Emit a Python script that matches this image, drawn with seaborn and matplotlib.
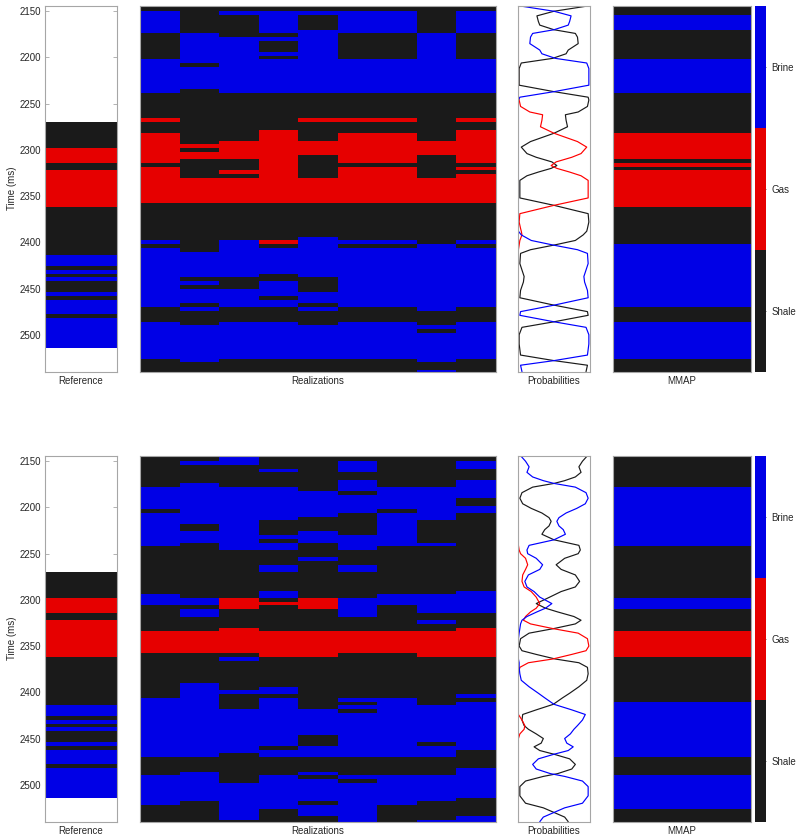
import numpy as np
import pandas as pd
import matplotlib
matplotlib.use("Agg")
import matplotlib.pyplot as plt
from matplotlib.colors import ListedColormap, BoundaryNorm
import seaborn as sns

sns.set_style("white")
plt.rcParams["font.family"] = ["Liberation Sans", "DejaVu Sans"]
plt.rcParams["font.size"] = 7

# ---------------- data ----------------
facies_names = ["Shale", "Gas", "Brine"]
facies_colors = ["#1a1a1a", "#e60000", "#0000e6"]
line_colors = ["#1a1a1a", "#ff0000", "#0000ff"]
time_limits = (2144, 2540)
sample_step = 4
yticks = [2150, 2200, 2250, 2300, 2350, 2400, 2450, 2500]
panel_labels = ["Reference", "Realizations", "Probabilities", "MMAP"]

# layers: (top time in ms, facies code)  S=shale, G=gas, B=brine, None=no data
reference_layers = [(2142, None), (2270, 'S'), (2298, 'G'), (2314, 'S'), (2322, 'G'),
                    (2362, 'S'), (2414, 'B'), (2426, 'S'), (2430, 'B'), (2434, 'S'),
                    (2438, 'B'), (2442, 'S'), (2454, 'B'), (2458, 'S'), (2462, 'B'),
                    (2478, 'S'), (2482, 'B'), (2514, None)]

realizations_top = [
    [(2142,'S'),(2150,'B'),(2174,'S'),(2202,'B'),(2238,'S'),(2266,'G'),(2270,'S'),(2282,'G'),(2314,'S'),(2318,'G'),(2358,'S'),(2398,'B'),(2402,'S'),(2406,'B'),(2470,'S'),(2486,'B'),(2526,'S')],
    [(2142,'S'),(2174,'B'),(2206,'S'),(2210,'B'),(2234,'S'),(2294,'G'),(2298,'S'),(2302,'G'),(2310,'S'),(2330,'G'),(2358,'S'),(2410,'B'),(2438,'S'),(2442,'B'),(2446,'S'),(2450,'B'),(2466,'S'),(2470,'B'),(2474,'S'),(2490,'B'),(2530,'S')],
    [(2142,'S'),(2150,'B'),(2154,'S'),(2178,'B'),(2238,'S'),(2290,'G'),(2310,'S'),(2322,'G'),(2326,'S'),(2330,'G'),(2358,'S'),(2398,'B'),(2438,'S'),(2450,'B'),(2470,'S'),(2486,'B'),(2526,'S')],
    [(2142,'S'),(2150,'B'),(2174,'S'),(2178,'B'),(2182,'S'),(2194,'B'),(2198,'S'),(2202,'B'),(2238,'S'),(2278,'G'),(2358,'S'),(2398,'G'),(2402,'S'),(2406,'B'),(2434,'S'),(2442,'B'),(2458,'S'),(2462,'B'),(2470,'S'),(2486,'B'),(2526,'S')],
    [(2142,'S'),(2150,'B'),(2154,'S'),(2170,'B'),(2238,'S'),(2266,'G'),(2270,'S'),(2290,'G'),(2306,'S'),(2330,'G'),(2358,'S'),(2394,'B'),(2438,'S'),(2454,'B'),(2466,'S'),(2470,'B'),(2474,'S'),(2490,'B'),(2526,'S')],
    [(2142,'S'),(2150,'B'),(2174,'S'),(2202,'B'),(2238,'S'),(2266,'G'),(2270,'S'),(2282,'G'),(2314,'S'),(2318,'G'),(2358,'S'),(2398,'B'),(2402,'S'),(2406,'B'),(2470,'S'),(2486,'B'),(2526,'S')],
    [(2142,'S'),(2150,'B'),(2174,'S'),(2202,'B'),(2238,'S'),(2266,'G'),(2270,'S'),(2282,'G'),(2314,'S'),(2318,'G'),(2358,'S'),(2398,'B'),(2402,'S'),(2406,'B'),(2470,'S'),(2486,'B'),(2526,'S')],
    [(2142,'S'),(2174,'B'),(2238,'S'),(2290,'G'),(2306,'S'),(2330,'G'),(2358,'S'),(2402,'B'),(2474,'S'),(2490,'B'),(2494,'S'),(2498,'B'),(2530,'S'),(2538,'B')],
    [(2142,'S'),(2150,'B'),(2174,'S'),(2202,'B'),(2238,'S'),(2266,'G'),(2270,'S'),(2278,'G'),(2314,'S'),(2318,'G'),(2322,'S'),(2326,'G'),(2358,'S'),(2398,'B'),(2402,'S'),(2406,'B'),(2470,'S'),(2486,'B'),(2526,'S')],
]

realizations_bottom = [
    [(2142,'S'),(2178,'B'),(2202,'S'),(2206,'B'),(2242,'S'),(2294,'B'),(2306,'S'),(2334,'G'),(2358,'S'),(2406,'B'),(2470,'S'),(2490,'B'),(2522,'S')],
    [(2142,'S'),(2150,'B'),(2154,'S'),(2174,'B'),(2218,'S'),(2226,'B'),(2238,'S'),(2298,'B'),(2306,'S'),(2310,'B'),(2318,'S'),(2334,'G'),(2358,'S'),(2390,'B'),(2470,'S'),(2486,'B'),(2518,'S')],
    [(2142,'B'),(2154,'S'),(2178,'B'),(2246,'S'),(2298,'G'),(2310,'S'),(2330,'G'),(2358,'S'),(2362,'B'),(2366,'S'),(2398,'B'),(2402,'S'),(2418,'B'),(2466,'S'),(2498,'B'),(2538,'S')],
    [(2142,'S'),(2158,'B'),(2162,'S'),(2178,'B'),(2214,'S'),(2230,'B'),(2234,'S'),(2238,'B'),(2246,'S'),(2262,'B'),(2270,'S'),(2290,'B'),(2298,'S'),(2302,'G'),(2306,'S'),(2334,'G'),(2362,'S'),(2394,'B'),(2402,'S'),(2406,'B'),(2458,'S'),(2462,'B'),(2470,'S'),(2490,'B'),(2526,'S')],
    [(2142,'S'),(2182,'B'),(2210,'S'),(2226,'B'),(2238,'S'),(2254,'B'),(2258,'S'),(2298,'G'),(2310,'S'),(2334,'G'),(2362,'S'),(2418,'B'),(2446,'S'),(2458,'B'),(2470,'S'),(2486,'B'),(2490,'S'),(2494,'B'),(2518,'S'),(2522,'B'),(2534,'S')],
    [(2142,'S'),(2150,'B'),(2162,'S'),(2170,'B'),(2182,'S'),(2186,'B'),(2206,'S'),(2230,'B'),(2246,'S'),(2262,'B'),(2270,'S'),(2298,'B'),(2318,'S'),(2334,'G'),(2358,'S'),(2406,'B'),(2410,'S'),(2414,'B'),(2418,'S'),(2422,'B'),(2470,'S'),(2490,'B'),(2494,'S'),(2498,'B')],
    [(2142,'S'),(2178,'B'),(2202,'S'),(2206,'B'),(2242,'S'),(2294,'B'),(2306,'S'),(2334,'G'),(2358,'S'),(2406,'B'),(2470,'S'),(2490,'B'),(2522,'S')],
    [(2142,'S'),(2178,'B'),(2214,'S'),(2238,'B'),(2242,'S'),(2294,'B'),(2314,'S'),(2322,'B'),(2326,'S'),(2334,'G'),(2362,'S'),(2414,'B'),(2454,'S'),(2458,'B'),(2470,'S'),(2490,'B'),(2518,'S'),(2538,'B')],
    [(2142,'S'),(2150,'B'),(2158,'S'),(2170,'B'),(2190,'S'),(2198,'B'),(2206,'S'),(2290,'B'),(2314,'S'),(2330,'G'),(2362,'S'),(2402,'B'),(2406,'S'),(2410,'B'),(2462,'S'),(2482,'B'),(2514,'S'),(2534,'B')],
]

mmap_top = [(2142,'S'),(2154,'B'),(2170,'S'),(2202,'B'),(2238,'S'),(2282,'G'),(2310,'S'),(2314,'G'),(2318,'S'),(2322,'G'),(2362,'S'),(2402,'B'),(2470,'S'),(2486,'B'),(2526,'S')]
mmap_bottom = [(2142,'S'),(2178,'B'),(2242,'S'),(2298,'B'),(2310,'S'),(2334,'G'),(2362,'S'),(2410,'B'),(2470,'S'),(2490,'B'),(2526,'S')]

# probabilities (top row)
prob_time_top = [2144, 2150, 2155, 2161, 2165, 2170, 2174, 2178, 2185, 2192,
                 2196, 2201, 2206, 2212, 2230, 2237, 2243, 2246, 2253, 2259,
                 2262, 2268, 2275, 2282, 2291, 2297, 2304, 2308, 2313, 2317,
                 2320, 2324, 2328, 2333, 2352, 2360, 2369, 2378, 2385, 2388,
                 2392, 2398, 2403, 2408, 2412, 2423, 2430, 2437, 2443, 2452,
                 2460, 2468, 2475, 2479, 2486, 2492, 2500, 2510, 2522, 2528,
                 2533, 2540]
shale_top = [1.00, 0.50, 0.26, 0.28, 0.30, 0.50, 0.80, 0.83, 0.84, 0.70,
             0.67, 0.48, 0.04, 0.01, 0.01, 0.50, 0.98, 0.99, 0.97, 0.84,
             0.66, 0.67, 0.69, 0.50, 0.17, 0.04, 0.12, 0.25, 0.47, 0.54,
             0.46, 0.28, 0.12, 0.02, 0.02, 0.50, 0.98, 0.99, 0.97, 0.96,
             0.91, 0.80, 0.50, 0.17, 0.03, 0.02, 0.05, 0.08, 0.07, 0.03,
             0.02, 0.50, 0.97, 0.98, 0.50, 0.05, 0.01, 0.01, 0.03, 0.50,
             0.97, 0.95]
gas_top = [0.00, 0.00, 0.00, 0.00, 0.00, 0.00, 0.00, 0.00, 0.00, 0.00,
           0.00, 0.00, 0.00, 0.00, 0.00, 0.00, 0.00, 0.01, 0.03, 0.16,
           0.34, 0.33, 0.31, 0.50, 0.83, 0.96, 0.88, 0.75, 0.53, 0.46,
           0.54, 0.72, 0.88, 0.98, 0.98, 0.50, 0.02, 0.01, 0.03, 0.04,
           0.05, 0.02, 0.01, 0.00, 0.00, 0.00, 0.00, 0.00, 0.00, 0.00,
           0.00, 0.00, 0.00, 0.00, 0.00, 0.00, 0.00, 0.00, 0.00, 0.00,
           0.00, 0.00]
brine_top = [0.00, 0.50, 0.74, 0.72, 0.70, 0.50, 0.20, 0.17, 0.16, 0.30,
             0.33, 0.52, 0.96, 0.99, 0.99, 0.50, 0.02, 0.00, 0.00, 0.00,
             0.00, 0.00, 0.00, 0.00, 0.00, 0.00, 0.00, 0.00, 0.00, 0.00,
             0.00, 0.00, 0.00, 0.00, 0.00, 0.00, 0.00, 0.00, 0.00, 0.00,
             0.04, 0.18, 0.49, 0.83, 0.97, 0.98, 0.95, 0.92, 0.93, 0.97,
             0.98, 0.50, 0.03, 0.02, 0.50, 0.95, 0.99, 0.99, 0.97, 0.50,
             0.03, 0.05]

# probabilities (bottom row)
prob_time_bottom = [2144, 2150, 2156, 2162, 2167, 2171, 2174, 2178, 2184, 2190,
                    2196, 2201, 2206, 2211, 2215, 2220, 2224, 2229, 2235, 2241,
                    2246, 2250, 2255, 2262, 2267, 2273, 2280, 2286, 2291, 2297,
                    2304, 2309, 2313, 2318, 2322, 2326, 2331, 2336, 2342, 2350,
                    2355, 2359, 2364, 2368, 2373, 2380, 2387, 2394, 2401, 2406,
                    2413, 2419, 2424, 2430, 2436, 2440, 2445, 2450, 2455, 2459,
                    2463, 2467, 2472, 2478, 2483, 2488, 2491, 2496, 2502, 2512,
                    2520, 2525, 2530, 2535, 2540]
shale_bottom = [0.97, 0.90, 0.85, 0.88, 0.80, 0.65, 0.50, 0.20, 0.05, 0.02,
                0.06, 0.18, 0.33, 0.43, 0.46, 0.43, 0.37, 0.33, 0.50, 0.85,
                0.87, 0.84, 0.65, 0.53, 0.60, 0.80, 0.86, 0.80, 0.60, 0.44,
                0.25, 0.38, 0.55, 0.78, 0.88, 0.80, 0.50, 0.15, 0.03, 0.01,
                0.05, 0.25, 0.52, 0.85, 0.97, 0.98, 0.96, 0.85, 0.72, 0.62,
                0.49, 0.25, 0.06, 0.05, 0.08, 0.14, 0.25, 0.35, 0.32, 0.22,
                0.30, 0.50, 0.72, 0.80, 0.75, 0.55, 0.35, 0.10, 0.02, 0.02,
                0.10, 0.35, 0.50, 0.65, 0.70]
gas_bottom = [0.00, 0.00, 0.00, 0.00, 0.00, 0.00, 0.00, 0.00, 0.00, 0.00,
              0.00, 0.00, 0.00, 0.00, 0.00, 0.00, 0.00, 0.00, 0.00, 0.00,
              0.01, 0.03, 0.10, 0.13, 0.10, 0.06, 0.05, 0.08, 0.18, 0.25,
              0.30, 0.25, 0.17, 0.10, 0.07, 0.17, 0.48, 0.84, 0.97, 0.99,
              0.95, 0.75, 0.48, 0.14, 0.02, 0.00, 0.00, 0.00, 0.00, 0.00,
              0.00, 0.00, 0.00, 0.05, 0.09, 0.08, 0.02, 0.00, 0.00, 0.00,
              0.00, 0.00, 0.00, 0.00, 0.00, 0.00, 0.00, 0.00, 0.00, 0.00,
              0.00, 0.00, 0.00, 0.00, 0.00]
brine_bottom = [0.03, 0.10, 0.15, 0.12, 0.20, 0.35, 0.50, 0.80, 0.95, 0.98,
                0.94, 0.82, 0.67, 0.57, 0.54, 0.57, 0.63, 0.66, 0.50, 0.15,
                0.12, 0.13, 0.25, 0.34, 0.30, 0.14, 0.09, 0.12, 0.22, 0.30,
                0.47, 0.38, 0.26, 0.12, 0.05, 0.03, 0.02, 0.01, 0.00, 0.00,
                0.00, 0.00, 0.00, 0.01, 0.01, 0.02, 0.04, 0.15, 0.28, 0.37,
                0.50, 0.75, 0.94, 0.90, 0.83, 0.78, 0.73, 0.65, 0.68, 0.77,
                0.70, 0.50, 0.28, 0.20, 0.25, 0.45, 0.65, 0.90, 0.98, 0.98,
                0.90, 0.65, 0.50, 0.35, 0.30]

# ---------------- helpers ----------------
code_index = {"S": 0, "G": 1, "B": 2}
cmap = ListedColormap(facies_colors)
norm = BoundaryNorm([-0.5, 0.5, 1.5, 2.5], cmap.N)
sample_times = np.arange(time_limits[0], time_limits[1] + 1, sample_step)
time_edges = np.append(sample_times - sample_step / 2, sample_times[-1] + sample_step / 2)

spine_color = "#a6a6a6"
text_color = "#262626"

W, H = 796, 840
fig = plt.figure(figsize=(W / 100, H / 100), dpi=100)


def add_ax(x0, x1, y0, y1):
    return fig.add_axes([x0 / W, 1 - y1 / H, (x1 - x0) / W, (y1 - y0) / H])


def column_values(layers):
    tops = np.array([t for t, _ in layers])
    idx = np.searchsorted(tops, sample_times, side="right") - 1
    out = []
    for i in idx:
        code = layers[i][1] if i >= 0 else None
        out.append(np.nan if code is None else code_index[code])
    return np.array(out, dtype=float)


def style(ax, label):
    for s in ax.spines.values():
        s.set_color(spine_color)
        s.set_linewidth(0.8)
    ax.set_xticks([])
    ax.set_yticks([])
    ax.set_xlabel(label, labelpad=3, color=text_color, fontsize=7)
    ax.set_ylabel("")
    ax.set_ylim(time_limits[1], time_limits[0])


def facies_panel(ax, columns, label):
    grid = np.column_stack([column_values(c) for c in columns])
    x_edges = np.arange(grid.shape[1] + 1)
    ax.pcolormesh(x_edges, time_edges, np.ma.masked_invalid(grid), cmap=cmap,
                  norm=norm, shading="flat")
    ax.set_xlim(0, grid.shape[1])
    style(ax, label)


def prob_panel(ax, times, shale, gas, brine, label):
    df = pd.DataFrame({
        "time": np.concatenate([times, times, times]),
        "probability": np.concatenate([shale, gas, brine]),
        "facies": ["Shale"] * len(times) + ["Gas"] * len(times) + ["Brine"] * len(times),
    })
    sns.lineplot(data=df, x="probability", y="time", hue="facies",
                 hue_order=facies_names, palette=line_colors, orient="y",
                 estimator=None, legend=False, linewidth=0.85, ax=ax)
    ax.set_xlim(-0.006, 1.006)
    style(ax, label)


rows = [
    (5.7, realizations_top, mmap_top, (prob_time_top, shale_top, gas_top, brine_top)),
    (455.7, realizations_bottom, mmap_bottom,
     (prob_time_bottom, shale_bottom, gas_bottom, brine_bottom)),
]
panel_h = 366

for y0, reals, mmap, probs in rows:
    y1 = y0 + panel_h
    ax_ref = add_ax(45, 117, y0, y1)
    facies_panel(ax_ref, [reference_layers], panel_labels[0])
    ax_ref.set_yticks(yticks)
    ax_ref.tick_params(axis="y", direction="in", length=3, width=0.6, left=True,
                       right=True, labelleft=True, color=spine_color,
                       labelcolor=text_color, labelsize=7, pad=3)
    ax_ref.set_ylabel("Time (ms)", color=text_color, fontsize=7, labelpad=1.5)

    ax_real = add_ax(140, 496, y0, y1)
    facies_panel(ax_real, reals, panel_labels[1])

    ax_prob = add_ax(518, 590, y0, y1)
    prob_panel(ax_prob, *probs, panel_labels[2])

    ax_mmap = add_ax(613, 751, y0, y1)
    facies_panel(ax_mmap, [mmap], panel_labels[3])

    cax = add_ax(755, 766, y0, y1)
    sm = plt.cm.ScalarMappable(cmap=cmap, norm=norm)
    cb = fig.colorbar(sm, cax=cax, ticks=[0, 1, 2])
    cb.ax.set_yticklabels(facies_names)
    cb.outline.set_visible(False)
    cax.minorticks_off()
    cax.tick_params(which="minor", length=0)
    cax.tick_params(which="major", direction="in", length=2, width=0.6, color="#555555",
                    labelcolor=text_color, labelsize=7, pad=4)

fig.savefig("out.png", dpi=100)
